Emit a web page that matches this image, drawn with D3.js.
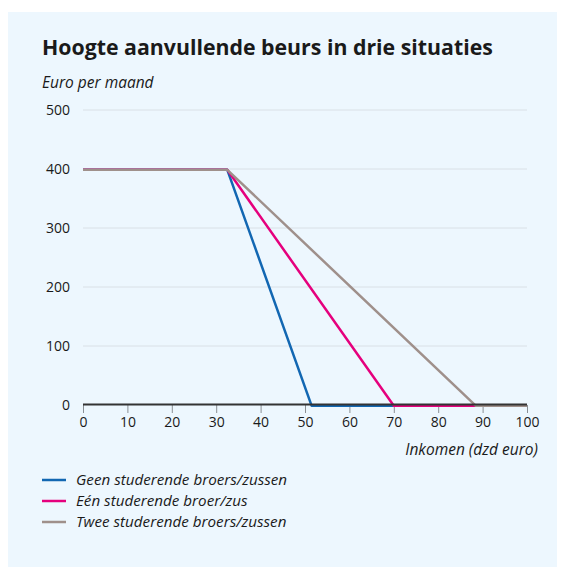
<!DOCTYPE html>
<html>
<head>
<meta charset="utf-8">
<script src="https://cdn.jsdelivr.net/npm/d3@7"></script>
<style>
	body { margin: 0; background: #fff; }
	svg text { font-family: "Open Sans", Lato, sans-serif; fill: #1a1a1a; }
</style>
</head>
<body>
<svg id="chart" width="569" height="569"></svg>
<script>
	// values
	let xTicks = [ 0, 10, 20, 30, 40, 50, 60, 70, 80, 90, 100 ],
		yTicks = [ 0, 100, 200, 300, 400, 500 ],
		seriesNames = [ 'Geen studerende broers/zussen', 'Eén studerende broer/zus', 'Twee studerende broers/zussen' ],
		seriesColors = [ '#1267b2', '#e5007d', '#9f908b' ],
		inkomen = [ 0, 32.5, 51.5, 70, 88.5, 100 ],
		geen = [ 400, 400, 0, 0, 0, 0 ],
		een = [ 400, 400, null, 0, 0, 0 ],
		twee = [ 400, 400, null, null, 0, 0 ];

	let svg = d3.select( '#chart' ),
		margin = { left: 83, right: 42, top: 110, bottom: 164 },
		w = 569 - margin.left - margin.right,
		h = 569 - margin.top - margin.bottom;

	// background panel
	svg.append( 'rect' )
		.attr( 'x', 8 ).attr( 'y', 12 )
		.attr( 'width', 549 ).attr( 'height', 555 )
		.style( 'fill', '#edf7fe' );

	svg.append( 'text' )
		.attr( 'x', 42 ).attr( 'y', 55 )
		.style( 'font-size', '21.3px' ).style( 'font-weight', 'bold' )
		.text( 'Hoogte aanvullende beurs in drie situaties' );

	svg.append( 'text' )
		.attr( 'x', 42 ).attr( 'y', 88 )
		.style( 'font-size', '15.5px' ).style( 'font-style', 'italic' )
		.text( 'Euro per maand' );

	let x = d3.scaleLinear().domain( [ 0, 100 ] ).range( [ 0, w ] ),
		y = d3.scaleLinear().domain( [ 0, 500 ] ).range( [ h, 0 ] ),
		g = svg.append( 'g' ).attr( 'transform', 'translate(' + margin.left + ',' + margin.top + ')' );

	// gridlines
	g.selectAll( 'line.grid' ).data( yTicks.filter( d => d > 0 ) )
		.enter().append( 'line' )
		.attr( 'class', 'grid' )
		.attr( 'x1', 0 ).attr( 'x2', w )
		.attr( 'y1', d => y( d ) ).attr( 'y2', d => y( d ) )
		.style( 'stroke', '#d9e0e6' ).style( 'stroke-width', 1 );

	// y labels
	g.selectAll( 'text.ylab' ).data( yTicks )
		.enter().append( 'text' )
		.attr( 'class', 'ylab' )
		.attr( 'x', -13 ).attr( 'y', d => y( d ) + 5 )
		.attr( 'text-anchor', 'end' )
		.style( 'font-size', '14px' )
		.text( d => d );

	// x axis
	let xAxis = g.append( 'g' ).attr( 'transform', 'translate(0,' + h + ')' )
		.call( d3.axisBottom( x ).tickValues( xTicks ).tickSize( 8 ).tickPadding( 4 ) );
	xAxis.select( '.domain' ).remove();
	xAxis.selectAll( '.tick line' ).style( 'stroke', '#8a8f94' ).style( 'stroke-width', 1 );
	xAxis.selectAll( '.tick text' ).style( 'font-size', '14px' ).style( 'fill', '#1a1a1a' ).attr( 'font-family', null );

	// lines, blue first, grey on top
	let line = d3.line()
		.x( d => x( d[ 0 ] ) ).y( d => y( d[ 1 ] ) );

	[ geen, een, twee ].forEach( function( vals, i ) {
		g.append( 'path' )
			.datum( inkomen.map( ( v, j ) => [ v, vals[ j ] ] ).filter( d => d[ 1 ] !== null ) )
			.attr( 'd', line )
			.attr( 'transform', 'translate(0,0.8)' )
			.style( 'fill', 'none' )
			.style( 'stroke', seriesColors[ i ] )
			.style( 'stroke-width', 2.5 )
			.style( 'stroke-linejoin', 'round' );
	} );

	g.append( 'line' )
		.attr( 'x1', 0 ).attr( 'x2', w )
		.attr( 'y1', y( 0 ) - 0.5 ).attr( 'y2', y( 0 ) - 0.5 )
		.style( 'stroke', '#333' ).style( 'stroke-width', 2 );

	g.append( 'text' )
		.attr( 'x', w + 11 ).attr( 'y', h + 50 )
		.attr( 'text-anchor', 'end' )
		.style( 'font-size', '15.5px' ).style( 'font-style', 'italic' )
		.text( 'Inkomen (dzd euro)' );

	// legend
	let legend = svg.append( 'g' ).attr( 'transform', 'translate(42,480)' );
	seriesNames.forEach( function( name, i ) {
		legend.append( 'line' )
			.attr( 'x1', 0 ).attr( 'x2', 24 )
			.attr( 'y1', i * 21 ).attr( 'y2', i * 21 )
			.style( 'stroke', seriesColors[ i ] ).style( 'stroke-width', 2.5 );
		legend.append( 'text' )
			.attr( 'x', 34 ).attr( 'y', i * 21 + 5 )
			.style( 'font-size', '15.2px' ).style( 'font-style', 'italic' )
			.text( name );
	} );
</script>
</body>
</html>
